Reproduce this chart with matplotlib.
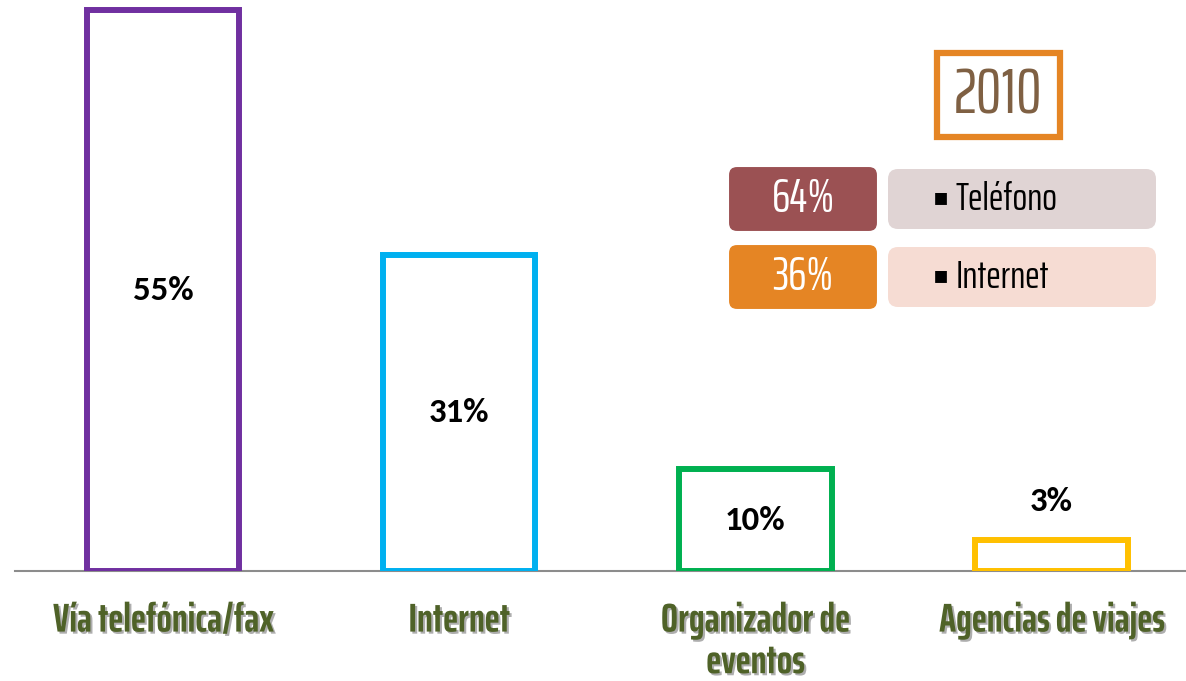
import matplotlib.pyplot as plt
import matplotlib.patheffects as pe
from matplotlib.patches import FancyBboxPatch, Rectangle

# Chart data
categories = ['Vía telefónica/fax', 'Internet', 'Organizador de\neventos', 'Agencias de viajes']
values = [55, 31, 10, 3]
bar_colors = ['#7030a0', '#00b0f0', '#00b050', '#ffc000']

# 2010 breakdown box
year_label = '2010'
share_values = [64, 36]
share_names = ['Teléfono', 'Internet']
share_dark = ['#9b5153', '#e58524']
share_light = ['#e0d4d4', '#f6dcd3']

narrow = ['Saira ExtraCondensed', 'DejaVu Sans']
label_font = ['Carlito', 'Lato', 'DejaVu Sans']

fig = plt.figure(figsize=(11.86, 6.81), dpi=100)
ax = fig.add_axes([15 / 1186, 110 / 681, 1 - 15 / 1186, 571 / 681])

x = range(len(categories))
ax.bar(x, values, width=0.515, facecolor='white', edgecolor=bar_colors, linewidth=4.3, zorder=3)

for i, v in enumerate(values):
    ypos = v / 2 if v >= 8 else v + 3.8
    ax.text(i, ypos, f'{v}%', ha='center', va='center', fontsize=25,
            fontweight='bold', family=label_font, zorder=4)

ax.set_xlim(-0.5, 3.454)
ax.set_ylim(0, 56)
ax.set_xticks([])
ax.set_yticks([])
for s in ['top', 'right', 'left']:
    ax.spines[s].set_visible(False)
ax.spines['bottom'].set_color('#8c8c8c')
ax.spines['bottom'].set_linewidth(1.5)

shadow = [pe.withSimplePatchShadow(offset=(1.5, -1.5), shadow_rgbFace='#9a9a9a', alpha=0.8)]
for i, c in enumerate(categories):
    ax.text(i, -3.0, c, ha='center', va='top', fontsize=29, fontweight='bold',
            family=narrow, color='#4f6228', linespacing=1.12,
            path_effects=shadow, clip_on=False)

# overlay in pixel coords for the 2010 box
ov = fig.add_axes([0, 0, 1, 1])
ov.set_xlim(0, 1186)
ov.set_ylim(681, 0)
ov.axis('off')

ov.add_patch(Rectangle((937, 53), 123, 84, facecolor='white', edgecolor='#e58524', linewidth=4.5))
ov.text(998, 96, year_label, ha='center', va='center', fontsize=46,
        family=narrow, color='#7f6043')

row_y = [166, 244]
for k in range(len(share_values)):
    y0 = row_y[k]
    ov.add_patch(FancyBboxPatch((888, y0 + 3), 268, 60, boxstyle='round,pad=0,rounding_size=10',
                                facecolor=share_light[k], edgecolor='none'))
    ov.add_patch(FancyBboxPatch((728, y0), 150, 66, boxstyle='round,pad=0,rounding_size=9',
                                facecolor=share_dark[k], edgecolor='white', linewidth=1.5))
    ov.text(803, y0 + 33, f'{share_values[k]}%', ha='center', va='center', fontsize=34,
            family=narrow, color='white')
    ov.text(933, y0 + 31, '\u25aa', ha='left', va='center', fontsize=17,
            family='DejaVu Sans', color='black')
    ov.text(956, y0 + 33, share_names[k], ha='left', va='center', fontsize=28,
            family=narrow, color='black')

fig.savefig('out.png', dpi=100)
